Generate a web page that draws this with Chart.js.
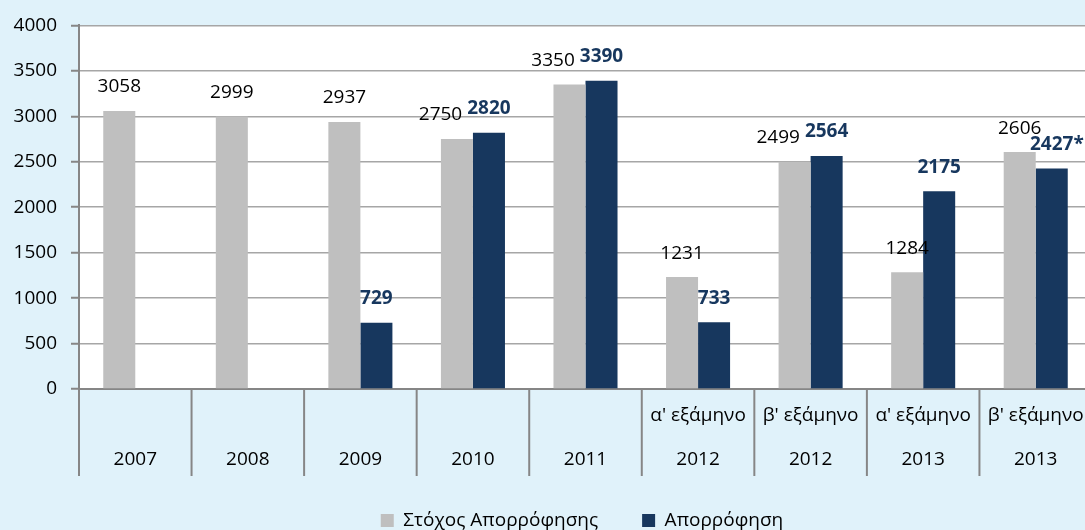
<!DOCTYPE html>
<html>
<head>
<meta charset="utf-8">
<script src="https://cdn.jsdelivr.net/npm/chart.js@4.4.1/dist/chart.umd.min.js"></script>
<style>
  html, body { margin: 0; padding: 0; background: #e0f2fa; overflow: hidden; }
  #wrap { width: 1092px; height: 530px; }
</style>
</head>
<body>
<div id="wrap"><canvas id="chart" width="1092" height="530"></canvas></div>
<script>
// data
const periods = ["", "", "", "", "", "α' εξάμηνο", "β' εξάμηνο", "α' εξάμηνο", "β' εξάμηνο"];
const years = ["2007", "2008", "2009", "2010", "2011", "2012", "2012", "2013", "2013"];
const targetValues = [3058, 2999, 2937, 2750, 3350, 1231, 2499, 1284, 2606];
const absorbedValues = [null, null, 729, 2820, 3390, 733, 2564, 2175, 2427];
const absorbedNotes = ["", "", "", "", "", "", "", "", "*"];
const yMin = 0, yMax = 4000, yStep = 500;

const FONT = "'Open Sans', 'DejaVu Sans', sans-serif";
const SIZE = 19;
const GREY = "#bfbfbf";
const NAVY = "#17375e";
const AXIS = "#868686";

const labels = periods.map((p, i) => [p, years[i]]);

// white plot area on the light blue page
const plotBackground = {
  id: "plotBackground",
  beforeDraw(chart) {
    const { ctx, chartArea: a } = chart;
    ctx.save();
    ctx.fillStyle = "#ffffff";
    ctx.fillRect(a.left, a.top, a.right - a.left, a.bottom - a.top);
    ctx.restore();
  }
};

// vertical separators between categories, under the axis
const categoryDividers = {
  id: "categoryDividers",
  afterDraw(chart) {
    const { ctx, chartArea: a } = chart;
    const x = chart.scales.x;
    const half = (x.getPixelForValue(1) - x.getPixelForValue(0)) / 2;
    ctx.save();
    ctx.strokeStyle = AXIS;
    ctx.lineWidth = 2;
    for (let i = 0; i <= years.length; i++) {
      const px = x.getPixelForValue(i) - half;
      ctx.beginPath();
      ctx.moveTo(px, a.bottom);
      ctx.lineTo(px, a.bottom + 87);
      ctx.stroke();
    }
    ctx.restore();
  }
};

// value labels above the bars
const valueLabels = {
  id: "valueLabels",
  afterDatasetsDraw(chart) {
    const ctx = chart.ctx;
    const greyMeta = chart.getDatasetMeta(0);
    const navyMeta = chart.getDatasetMeta(1);
    ctx.save();
    ctx.textBaseline = "middle";
    ctx.textAlign = "center";
    years.forEach((y, i) => {
      const g = greyMeta.data[i];
      const n = navyMeta.data[i];
      const gText = String(targetValues[i]);
      const gy = g.y - 24;
      let gx = g.x;
      ctx.font = SIZE + "px " + FONT;
      const gw = ctx.measureText(gText).width;
      if (absorbedValues[i] != null) {
        const nText = absorbedValues[i] + absorbedNotes[i];
        ctx.font = "bold " + SIZE + "px " + FONT;
        const nw = ctx.measureText(nText).width;
        const ny = n.y - 24;
        const nx = n.x + (absorbedNotes[i] ? ctx.measureText(absorbedNotes[i]).width / 2 : 0);
        // push the grey label left when the two labels collide
        const overlap = (gx + gw / 2 + 5) - (nx - nw / 2);
        if (Math.abs(gy - ny) < 14 && overlap > 0) gx -= overlap;
        ctx.fillStyle = NAVY;
        ctx.fillText(nText, nx, ny);
      }
      ctx.font = SIZE + "px " + FONT;
      ctx.fillStyle = "#000000";
      ctx.fillText(gText, gx, gy);
    });
    ctx.restore();
  }
};

// move the legend a little to the right, like the original
const legendShift = {
  id: "legendShift",
  afterLayout(chart) {
    chart.legend.left += 36;
    chart.legend.right += 36;
  }
};

new Chart(document.getElementById("chart"), {
  type: "bar",
  data: {
    labels: labels,
    datasets: [
      { label: "Στόχος Απορρόφησης", data: targetValues, backgroundColor: GREY },
      { label: "Απορρόφηση", data: absorbedValues, backgroundColor: NAVY }
    ]
  },
  options: {
    responsive: false,
    animation: false,
    devicePixelRatio: 1,
    categoryPercentage: 0.569,
    barPercentage: 1,
    layout: { padding: { top: 24, left: 0, right: 0, bottom: -10 } },
    plugins: {
      tooltip: { enabled: false },
      legend: {
        position: "bottom",
        labels: {
          color: "#000000",
          font: { family: FONT, size: SIZE, lineHeight: 1.2 },
          boxWidth: 13,
          boxHeight: 13,
          padding: 44
        }
      }
    },
    scales: {
      x: {
        grid: { display: false, drawTicks: false },
        border: { display: true, color: AXIS, width: 2 },
        ticks: {
          color: "#000000",
          font: { family: FONT, size: SIZE, lineHeight: 44 / SIZE },
          padding: 5,
          maxRotation: 0,
          autoSkip: false
        },
        afterFit(scale) { scale.height = 78; }
      },
      y: {
        min: yMin,
        max: yMax,
        grid: { color: "#a6a6a6", lineWidth: 1.5, tickLength: 8, tickColor: AXIS, tickWidth: 2 },
        border: { display: true, color: AXIS, width: 2 },
        ticks: {
          stepSize: yStep,
          color: "#000000",
          font: { family: FONT, size: SIZE },
          padding: 14,
          callback: (v) => String(v)
        },
        afterFit(scale) { scale.width = 79; }
      }
    }
  },
  plugins: [plotBackground, categoryDividers, valueLabels, legendShift]
});
</script>
</body>
</html>
